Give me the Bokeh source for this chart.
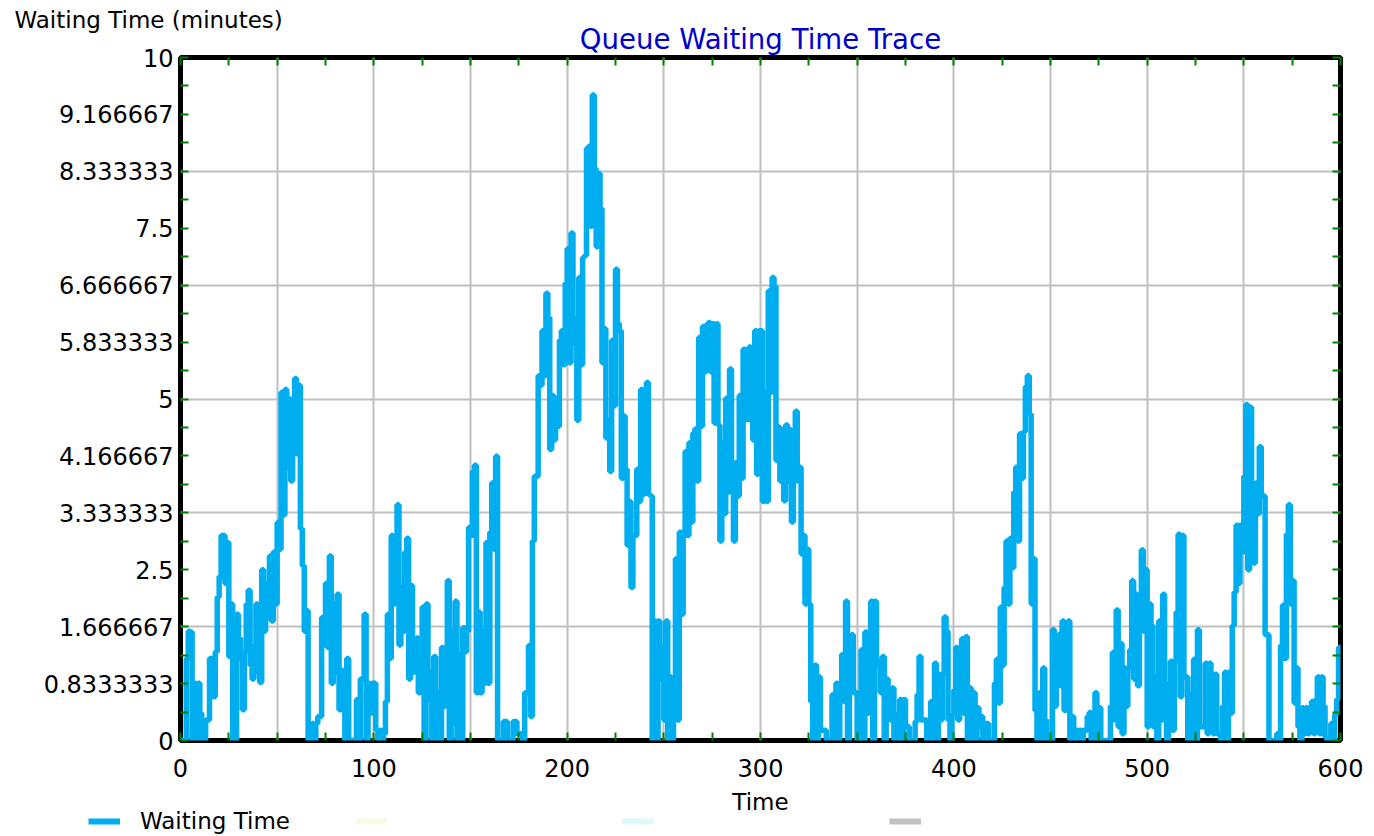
from bokeh.plotting import figure
from bokeh.layouts import column
from bokeh.models import (LinearAxis, FixedTicker, Legend, LegendItem,
                          Range1d, Grid, Label, Title)
from bokeh.embed import file_html
from bokeh.resources import INLINE

# waiting time (minutes), one value per time unit, step trace
waits = [
    0, 0, 0, 1.2, 1.6, 1.59, 0, 0.84, 0, 0.84,
    0.4, 0, 0, 0.3, 0.3, 1.2, 1.2, 0.64, 1.3, 2.1,
    2.4, 3.0, 3.0, 2.3, 2.9, 1.23, 2.0, 0, 0, 1.85,
    1.5, 1.2, 0.45, 1.3, 2.0, 2.2, 1.1, 0.9, 1.4, 2.0,
    1.0, 0.85, 2.5, 1.6, 2.3, 1.8, 2.7, 1.75, 2.76, 2.0,
    3.19, 2.8, 5.1, 3.3, 5.14, 4.0, 5.0, 3.8, 4.95, 5.3,
    4.2, 5.2, 3.1, 2.56, 1.6, 1.9, 0, 0, 0.25, 0,
    0.25, 0.35, 0.35, 1.8, 1.4, 2.3, 1.36, 2.7, 0.84, 2.0,
    1.0, 2.14, 0.45, 1.03, 0.93, 0, 1.2, 0, 0, 0,
    0, 0.6, 0, 0.9, 0.9, 1.85, 0, 0.84, 0.4, 0.84,
    0.84, 0.15, 0, 0.15, 0, 0.1, 0.57, 1.85, 1.2, 3.0,
    2.0, 3.0, 3.45, 1.4, 2.24, 1.6, 2.76, 2.96, 0.9, 2.27,
    1.0, 1.46, 1.5, 0.7, 1.5, 1.95, 0, 2.0, 0.6, 1.0,
    0, 1.23, 0, 0.7, 0, 1.36, 0.5, 1.2, 2.34, 0,
    1.6, 0.25, 2.04, 0, 1.26, 0, 1.65, 1.3, 1.6, 3.12,
    3.0, 3.94, 4.03, 0.7, 1.88, 0.7, 1.6, 0.84, 2.9, 0.84,
    3.05, 3.77, 2.8, 4.16, 0, 0, 0, 0.28, 0.28, 0,
    0, 0, 0.28, 0.28, 0.1, 0.1, 0.1, 0, 0.7, 0.7,
    1.39, 0.35, 2.92, 3.87, 3.87, 5.34, 5.2, 6.0, 5.34, 6.55,
    6.19, 4.26, 5.05, 4.4, 5.0, 4.6, 5.86, 6.0, 5.5, 6.7,
    7.2, 5.53, 7.43, 6.19, 5.8, 4.69, 6.78, 5.5, 7.07, 7.1,
    8.67, 8.7, 7.53, 9.45, 8.37, 7.23, 8.3, 7.79, 5.53, 6.03,
    4.43, 4.69, 3.94, 5.86, 4.9, 6.9, 6.1, 6.0, 3.84, 4.75,
    3.97, 2.86, 3.5, 2.24, 3.0, 3.0, 3.97, 3.5, 5.14, 3.6,
    5.14, 5.24, 3.6, 3.58, 0, 1.75, 0, 1.75, 0.9, 1.36,
    0.3, 1.75, 0, 0.93, 0, 0.93, 2.66, 0.3, 3.05, 1.85,
    3.05, 4.23, 3.0, 4.36, 3.2, 4.5, 4.56, 3.8, 5.9, 4.6,
    6.06, 5.4, 6.09, 6.12, 5.4, 6.1, 4.65, 6.1, 4.62, 2.92,
    4.36, 3.32, 5.01, 3.64, 5.44, 3.64, 2.92, 4.07, 3.58, 5.05,
    3.84, 5.73, 5.6, 4.7, 5.76, 4.9, 4.4, 6.0, 3.9, 6.0,
    6.0, 3.5, 5.1, 3.5, 6.58, 5.1, 6.78, 6.65, 4.1, 4.59,
    3.8, 4.55, 3.51, 4.62, 3.8, 4.55, 3.2, 4.55, 4.82, 3.8,
    4.0, 2.73, 3.0, 2.0, 2.8, 2.0, 0.57, 0, 1.1, 0,
    0.93, 0.15, 0.15, 0.15, 0, 0, 0, 0.67, 0, 0.84,
    0, 0.84, 1.26, 0.57, 2.04, 0, 1.23, 1.55, 0.7, 0.7,
    0, 0.38, 1.33, 0, 1.59, 0.4, 1.59, 2.04, 0, 2.04,
    1.1, 1.16, 0.7, 1.23, 0, 0.9, 0.77, 0.3, 0.77, 0,
    0.38, 0, 0.6, 0, 0.6, 0.2, 0.2, 0, 0, 0,
    0.28, 0.67, 1.23, 0.3, 0.3, 0.3, 0, 0, 0.57, 0,
    1.13, 0, 0.97, 0.3, 0.97, 1.81, 1.6, 0.3, 0, 0.38,
    0.74, 1.36, 0.3, 1.36, 1.49, 0.4, 1.52, 0, 0.77, 0,
    0.7, 0, 0.48, 0.2, 0.35, 0, 0.25, 0.25, 0, 0,
    0, 0.84, 1.19, 0.55, 1.95, 1.1, 2.24, 2.92, 2.0, 2.96,
    2.53, 3.64, 4.0, 2.92, 4.49, 3.84, 4.52, 5.18, 5.34, 4.78,
    2.0, 2.66, 0.44, 0, 0.7, 0, 1.06, 0.3, 0, 0,
    0, 1.62, 0.5, 0.8, 1.55, 0.8, 1.75, 0.44, 1.62, 1.75,
    0, 0.35, 0, 0.15, 0, 0.15, 0, 0.15, 0.15, 0.35,
    0.41, 0, 0.38, 0.7, 0, 0.48, 0, 0, 0, 0,
    0, 0.5, 1.29, 0.3, 1.91, 0.2, 1.42, 0.1, 1.06, 0.5,
    1.06, 1.33, 2.34, 0.9, 2.14, 0.8, 2.14, 2.79, 1.6, 2.5,
    0.2, 2.0, 1.68, 0.2, 0.93, 0, 1.75, 0.3, 2.14, 0.84,
    0, 0.7, 1.16, 0.15, 1.16, 1.88, 3.02, 0.64, 3.0, 0.93,
    0.93, 0, 0.67, 0, 1.19, 0, 1.62, 0.2, 0.2, 0.2,
    1.13, 0.1, 1.13, 0.97, 0.1, 0.97, 0.1, 0.1, 0, 0.5,
    1.0, 0, 1.0, 0.4, 1.68, 2.17, 3.15, 2.3, 3.15, 2.76,
    3.87, 4.92, 2.5, 4.88, 3.77, 2.6, 3.77, 3.32, 4.3, 3.58,
    3.58, 1.55, 1.55, 0, 0, 0, 0, 0.1, 0, 1.39,
    1.98, 1.2, 3.02, 3.45, 2.0, 2.34, 0.55, 1.06, 0.2, 0,
    0.48, 0.1, 0.48, 0.1, 0.45, 0.57, 0.1, 0.6, 0.93, 0.1,
    0.93, 0.5, 0.05, 0, 0, 0.25, 0, 0.38, 0.6, 1.36,
    1.29,
]
times = list(range(len(waits)))

x_ticks = [0, 100, 200, 300, 400, 500, 600]
x_minor = [0, 25, 50, 75, 100, 125, 150, 175, 200, 225, 250, 275, 300,
           325, 350, 375, 400, 425, 450, 475, 500, 525, 550, 575, 600]
x_grid = [0, 50, 100, 150, 200, 250, 300, 350, 400, 450, 500, 550, 600]
y_ticks = [k * 10 / 12 for k in range(13)]
y_tick_labels = ["0", "0.8333333", "1.666667", "2.5", "3.333333", "4.166667",
                 "5", "5.833333", "6.666667", "7.5", "8.333333", "9.166667", "10"]
y_minor = [k * 10 / 24 for k in range(25)]
y_grid = [k * 10 / 6 for k in range(7)]

title_text = "Queue Waiting Time Trace"
y_label_text = "Waiting Time (minutes)"
x_label_text = "Time"
legend_labels = ["Waiting Time", " ", " ", " "]
legend_colors = ["#00AEEF", "#FAFAE8", "#DDFAFA", "#C0C0C0"]

FONT = "DejaVu Sans"
W = 1370
FTR_H = 46
ML, MR, MT, MB = 180, 30, 57, 48
FRAME_H = 683
P_H = MT + FRAME_H + MB

# main plot
p = figure(width=W, height=P_H, x_range=Range1d(0, 600), y_range=Range1d(0, 10),
           output_backend="svg", toolbar_location=None, title=None,
           x_axis_type=None, y_axis_type=None,
           min_border_left=ML, min_border_right=MR,
           min_border_top=MT, min_border_bottom=MB)
p.background_fill_color = "white"
p.border_fill_color = "white"
p.outline_line_color = "black"
p.outline_line_width = 5

p.add_layout(Grid(dimension=0, ticker=FixedTicker(ticks=x_grid),
                  grid_line_color="#c0c0c0", grid_line_width=2))
p.add_layout(Grid(dimension=1, ticker=FixedTicker(ticks=y_grid),
                  grid_line_color="#c0c0c0", grid_line_width=2))


def style_axis(ax):
    ax.axis_line_color = None
    ax.major_tick_line_color = None
    ax.major_tick_in = 0
    ax.major_tick_out = 0
    ax.minor_tick_line_color = "#008000"
    ax.minor_tick_line_width = 2
    ax.minor_tick_in = 8
    ax.minor_tick_out = 0
    ax.major_label_text_font = FONT
    ax.major_label_text_font_size = "24px"
    ax.major_label_text_color = "black"


xb = LinearAxis(ticker=FixedTicker(ticks=x_ticks, minor_ticks=x_minor))
style_axis(xb)
xb.major_label_standoff = 18
p.add_layout(xb, "below")

yl = LinearAxis(ticker=FixedTicker(ticks=y_ticks, minor_ticks=y_minor))
style_axis(yl)
yl.major_label_standoff = 7
yl.major_label_overrides = dict(zip(y_ticks, y_tick_labels))
p.add_layout(yl, "left")

xt = LinearAxis(ticker=FixedTicker(ticks=[], minor_ticks=x_minor))
style_axis(xt)
xt.major_label_standoff = 0
p.add_layout(xt, "above")
yr = LinearAxis(ticker=FixedTicker(ticks=[], minor_ticks=y_minor))
style_axis(yr)
yr.major_label_standoff = 0
p.add_layout(yr, "right")

p.add_layout(Title(text=title_text, align="center", text_font=FONT,
                   text_font_size="27.6px", text_font_style="normal",
                   text_color="#0000CC", standoff=3), "above")
p.add_layout(Title(text=y_label_text, align="left", offset=-166, text_font=FONT,
                   text_font_size="23px", text_font_style="normal",
                   text_color="black", standoff=-27), "above")

p.step(times, waits, mode="after", line_width=5.5, line_color=legend_colors[0])

# footer: x-axis caption and legend
ftr = figure(width=W, height=FTR_H, x_range=Range1d(0, W),
             y_range=Range1d(0, FTR_H), output_backend="svg",
             toolbar_location=None, title=None, x_axis_type=None,
             y_axis_type=None, min_border=0, frame_align=False)
ftr.outline_line_color = None
ftr.background_fill_color = "white"
ftr.border_fill_color = "white"
ftr.add_layout(Label(x=760, y=FTR_H - 13, text=x_label_text, text_align="center",
                     text_baseline="middle", text_font=FONT,
                     text_font_size="23px", text_color="black"))
items = []
for lab, col in zip(legend_labels, legend_colors):
    r = ftr.line([float("nan")], [float("nan")], line_color=col, line_width=6)
    items.append(LegendItem(label=lab, renderers=[r]))
legend = Legend(items=items, orientation="horizontal", location=(88, 0),
                glyph_width=32, glyph_height=20, label_standoff=20,
                label_width=195, label_height=20, spacing=20,
                padding=0, margin=0, border_line_color=None,
                background_fill_alpha=0,
                label_text_font=FONT, label_text_font_size="23px",
                label_text_color="black")
ftr.add_layout(legend)

layout = column(p, ftr, spacing=0)
open("out.html", "w").write(file_html(layout, INLINE))
